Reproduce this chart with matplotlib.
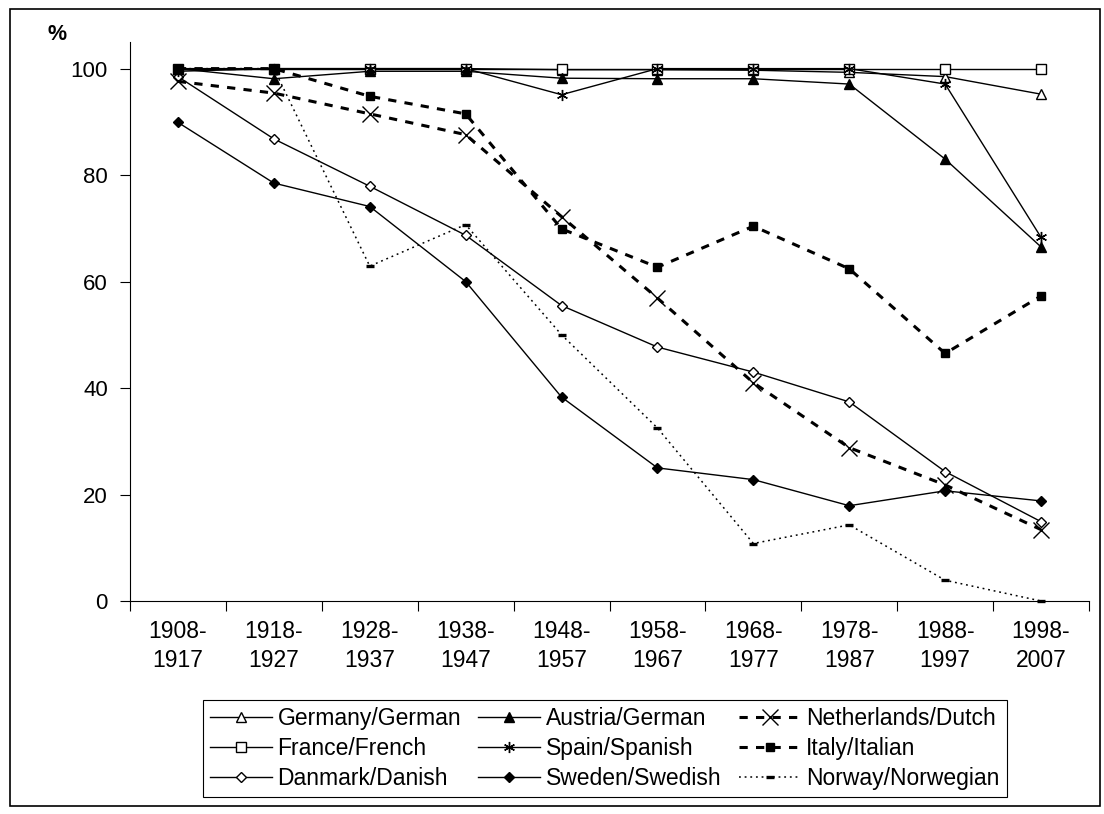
import numpy as np
import matplotlib.pyplot as plt
from matplotlib.patches import Rectangle

plt.rcParams['font.family'] = ['Liberation Sans', 'DejaVu Sans']

periodos = ['1908-\n1917', '1918-\n1927', '1928-\n1937', '1938-\n1947', '1948-\n1957',
            '1958-\n1967', '1968-\n1977', '1978-\n1987', '1988-\n1997', '1998-\n2007']

germany = [100, 100, 100, 100, 99.8, 99.8, 99.7, 99.3, 98.5, 95.2]
austria = [100, 98.1, 99.5, 99.5, 98.2, 98.1, 98.1, 97.1, 83.0, 66.5]
netherlands = [97.6, 95.4, 91.5, 87.6, 72.2, 56.9, 41.0, 28.8, 21.8, 13.4]
france = [100, 100, 100, 100, 100, 100, 100, 100, 100, 100]
spain = [99.5, 100, 100, 100, 95.1, 100, 100, 100, 97.1, 68.3]
italy = [100, 100, 94.8, 91.5, 69.9, 62.7, 70.4, 62.4, 46.5, 57.3]
danmark = [98.5, 86.8, 77.9, 68.7, 55.5, 47.7, 43.0, 37.4, 24.3, 14.9]
sweden = [89.9, 78.5, 74.1, 60.0, 38.3, 25.0, 22.8, 17.9, 20.7, 18.8]
norway = [100, 100, 62.9, 70.7, 50.0, 32.5, 10.8, 14.3, 3.9, 0]

nomes = ['Germany/German', 'France/French', 'Danmark/Danish',
         'Austria/German', 'Spain/Spanish', 'Sweden/Swedish',
         'Netherlands/Dutch', 'Italy/Italian', 'Norway/Norwegian']

W, H = 1104, 814
fig = plt.figure(figsize=(W/100, H/100), dpi=100)
ax = fig.add_axes([130/W, 1-601/H, (1089-130)/W, (601-42)/H])

xs = np.arange(len(periodos))
solid = dict(color='black', lw=1.0, linestyle='-')
dash = dict(color='black', lw=2.2, linestyle=(0, (2.7, 2.7)))

# ordem por colunas para a legenda (3 colunas)
series = [
  (germany, dict(solid, marker='^', ms=7.5, mfc='white', mec='black', mew=1)),
  (france, dict(solid, marker='s', ms=6.5, mfc='white', mec='black', mew=1)),
  (danmark, dict(solid, marker='D', ms=4.6, mfc='white', mec='black', mew=1)),
  (austria, dict(solid, marker='^', ms=7.5, mfc='black', mec='black')),
  (spain, dict(solid, marker=(6, 2, 0), ms=8, mec='black', mew=1)),
  (sweden, dict(solid, marker='D', ms=5.2, mfc='black', mec='black')),
  (netherlands, dict(dash, marker='x', ms=11, mec='black', mew=1)),
  (italy, dict(dash, marker='s', ms=6, mfc='black', mec='black')),
  (norway, dict(color='black', lw=1.1, linestyle=(0, (1.2, 2.5)), marker='_', ms=6, mew=2.4)),
]

handles = []
for ys, estilo in series:
  h, = ax.plot(xs, ys, clip_on=False, **estilo)
  handles.append(h)

ax.set_xlim(-0.5, len(periodos)-0.5)
ax.set_ylim(0, 105)
ax.set_yticks([0, 20, 40, 60, 80, 100])
ax.set_xticks(np.arange(-0.5, len(periodos)))
ax.set_xticklabels([])
ax.set_xticks(xs, minor=True)
ax.set_xticklabels(periodos, minor=True)
ax.tick_params(axis='x', which='major', direction='out', length=7, width=0.8)
ax.tick_params(axis='x', which='minor', length=0, pad=14, labelsize=16.5)
ax.tick_params(axis='y', direction='out', length=7, width=0.8, pad=9, labelsize=16)
for lbl in ax.get_xticklabels(minor=True):
  lbl.set_linespacing(1.3)

ax.spines['right'].set_color('none')
ax.spines['top'].set_color('none')
ax.spines['left'].set_linewidth(0.8)
ax.spines['bottom'].set_linewidth(0.8)

fig.text(57/W, 1-34/H, '%', fontsize=15.5, fontweight='bold', ha='center', va='center')

leg = fig.legend(handles, nomes, ncol=3, loc='upper left',
                 bbox_to_anchor=(203/W, 1-700/H), fontsize=16.5,
                 handlelength=2.7, handletextpad=0.25, columnspacing=0.75,
                 labelspacing=0.3, borderpad=0.3, borderaxespad=0,
                 fancybox=False, framealpha=1, edgecolor='black')
leg.get_frame().set_linewidth(0.8)

fig.patches.append(Rectangle((10/W, 1-806/H), (1100-10)/W, (806-9)/H,
                             transform=fig.transFigure, fill=False,
                             edgecolor='black', lw=1.2))

fig.savefig('out.png', dpi=100)
